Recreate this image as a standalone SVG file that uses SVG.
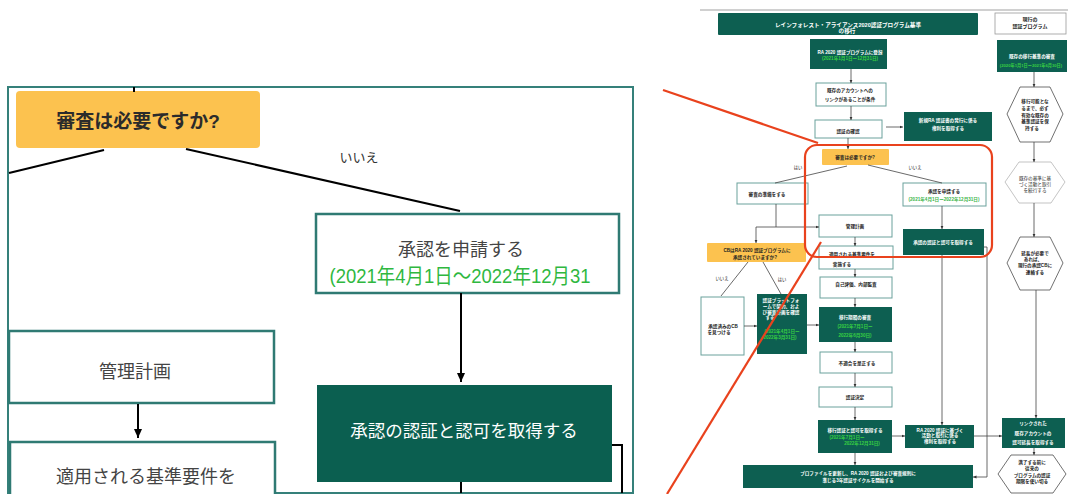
<svg xmlns="http://www.w3.org/2000/svg" width="1068" height="494" viewBox="0 0 1068 494">
<defs>
<style>
text{font-family:"Liberation Sans","Noto Sans CJK JP",sans-serif;text-anchor:middle;dominant-baseline:central}
.frame{fill:none;stroke:#35807a;stroke-width:2}
.wb{fill:#fff;stroke:#2f7a73;stroke-width:2.5}
.gb{fill:#0b5f50}
.yb{fill:#fcc24f}
.sw{fill:#fff;stroke:#6aa19c;stroke-width:1}
.sg{fill:#0d5f51}
.sy{fill:#fcc24f}
.hx{fill:#fff;stroke:#333;stroke-width:0.7}
.hx2{fill:#fff;stroke:#aaa;stroke-width:0.7}
.big{stroke:#000;stroke-width:2;fill:none}
.sm{stroke:#444;stroke-width:0.8;fill:none}
.red{stroke:#e9421d;stroke-width:2.2;fill:none}
.t18{font-size:18px;fill:#444}
.tw{fill:#fff}
.s{font-size:4.6px;font-weight:bold;fill:#222}
.sW{font-size:4.6px;font-weight:bold;fill:#fff}
.sG{font-size:4.6px;font-weight:bold;fill:#38d042}
.sGw{font-size:4.6px;font-weight:bold;fill:#3cb54a}
</style>
<marker id="ab" markerWidth="10" markerHeight="10" refX="9" refY="5" orient="auto" markerUnits="userSpaceOnUse"><path d="M0,1 L9,5 L0,9 Z" fill="#000"/></marker>
<marker id="as" markerWidth="4" markerHeight="4" refX="3.5" refY="2" orient="auto" markerUnits="userSpaceOnUse"><path d="M0,0.4 L3.5,2 L0,3.6 Z" fill="#333"/></marker>
</defs>
<rect width="1068" height="494" fill="#fff"/>

<!-- Left zoomed panel -->
<g id="panel">
<rect class="frame" x="8" y="87" width="625" height="406"/>
</g>
<g id="L-review">
<rect class="yb" x="16" y="91" width="244" height="57" rx="4"/>
<text x="138" y="121" style="font-size:19px;font-weight:bold;fill:#2b2b2b">審査は必要ですか?</text>
</g>
<g id="L-apply">
<rect class="wb" x="316" y="214" width="303" height="79"/>
<text class="t18" x="461" y="250">承認を申請する</text>
<text x="460" y="275" textLength="261" lengthAdjust="spacingAndGlyphs" style="font-size:21px;fill:#2fb83f">(2021年4月1日～2022年12月31</text>
</g>
<g id="L-obtain">
<rect class="gb" x="317" y="385" width="295" height="97"/>
<text class="tw" x="464" y="431" style="font-size:17.5px">承認の認証と認可を取得する</text>
</g>
<g id="L-plan">
<rect class="wb" x="9" y="331" width="265" height="72"/>
<text class="t18" x="135" y="372">管理計画</text>
</g>
<g id="L-apply2">
<rect class="wb" x="10" y="442" width="265" height="60"/>
<text class="t18" x="146" y="477">適用される基準要件を</text>
</g>
<g id="L-labels">
<text x="359" y="157" style="font-size:13px;fill:#333">いいえ</text>
</g>
<g id="L-connectors">
<path class="big" d="M134 87 V92"/>
<path class="big" d="M104 150 L9 173"/>
<path class="big" d="M186 149 L460 211"/>
<path class="big" d="M461 293 V382" marker-end="url(#ab)"/>
<path class="big" d="M138 404 V438" marker-end="url(#ab)"/>
<path class="big" d="M612 445 H622 V493"/>
<path class="big" d="M461 482 V493"/>
</g>

<!-- Right mini flowchart -->
<g id="R-topline"><path d="M700 10 H1068" stroke="#d0d0d0" stroke-width="2"/></g>
<g id="R-title">
<rect class="sg" x="718" y="13" width="260" height="22" rx="1"/>
<text class="sW" x="848" y="24.5" style="font-size:5.6px">レインフォレスト・アライアンス2020認証プログラム基準</text>
<text class="sW" x="847" y="30.5" style="font-size:5.6px">の移行</text>
</g>
<g id="R-title2">
<rect x="995" y="13" width="71" height="21" fill="#fff" stroke="#999" stroke-width="0.8"/>
<text class="s" x="1030" y="18.5" style="font-size:5px">現行の</text>
<text class="s" x="1030" y="26" style="font-size:5px">認証プログラム</text>
</g>
<g id="R-ra2020">
<rect class="sg" x="810" y="39" width="77" height="30"/>
<text class="sW" x="850" y="52">RA 2020 認証プログラムに登録</text>
<text class="sG" x="850" y="58.5">(2021年1月1日ー12月31日)</text>
</g>
<g id="R-link">
<rect class="sw" x="816" y="83" width="70" height="23"/>
<text class="s" x="850" y="90">既存のアカウントへの</text>
<text class="s" x="850" y="99">リンクがあることが条件</text>
</g>
<g id="R-check">
<rect class="sw" x="815" y="120" width="67" height="18"/>
<text class="s" x="848" y="131">認証の確認</text>
</g>
<g id="R-new">
<rect class="sg" x="904" y="112" width="88" height="29"/>
<text class="sW" x="948" y="120">新規RA 認証書の発行に係る</text>
<text class="sW" x="948" y="128">権利を取得する</text>
</g>
<g id="R-review">
<rect class="sy" x="822" y="149" width="67" height="16" rx="1"/>
<text class="s" x="855" y="157">審査は必要ですか?</text>
</g>
<g id="R-prep">
<rect class="sw" x="737" y="183" width="71" height="21"/>
<text class="s" x="767" y="194">審査の準備をする</text>
</g>
<g id="R-apply">
<rect class="sw" x="903" y="183" width="83" height="23"/>
<text class="s" x="944" y="191.5">承認を申請する</text>
<text class="sGw" x="944" y="199.5">(2021年4月1日ー2022年12月31日)</text>
</g>
<g id="R-obtain">
<rect class="sg" x="903" y="229" width="81" height="26"/>
<text class="sW" x="943" y="242">承認の認証と認可を取得する</text>
</g>
<g id="R-plan">
<rect class="sw" x="819" y="215" width="73" height="22"/>
<text class="s" x="855" y="226">管理計画</text>
</g>
<g id="R-impl">
<rect class="sw" x="819" y="246" width="74" height="23"/>
<text class="s" x="852" y="254">適用される基準要件を</text>
<text class="s" x="842" y="264">実施する</text>
</g>
<g id="R-self">
<rect class="sw" x="820" y="277" width="72" height="21"/>
<text class="s" x="856" y="284">自己評価、内部監査</text>
</g>
<g id="R-trans">
<rect class="sg" x="819" y="307" width="73" height="35"/>
<text class="sW" x="855" y="317.5">移行期間の審査</text>
<text class="sG" x="855" y="326.5">(2021年7月1日ー</text>
<text class="sG" x="855" y="335">2022年6月30日)</text>
</g>
<g id="R-fix">
<rect class="sw" x="820" y="352" width="72" height="21"/>
<text class="s" x="857" y="363">不適合を是正する</text>
</g>
<g id="R-decide">
<rect class="sw" x="819" y="387" width="73" height="20"/>
<text class="s" x="855" y="397">認証決定</text>
</g>
<g id="R-transcert">
<rect class="sg" x="818" y="420" width="74" height="33"/>
<text class="sW" x="855" y="430.5">移行認証と認可を取得する</text>
<text class="sG" x="847" y="437">(2021年7月1日ー</text>
<text class="sG" x="862" y="443.5">2022年12月31日)</text>
</g>
<g id="R-profile">
<rect class="sg" x="743" y="465" width="230" height="23"/>
<text class="sW" x="858" y="473">プロファイルを更新し、RA 2020 認証および審査規則に</text>
<text class="sW" x="858" y="480.5">準じる3年認証サイクルを開始する</text>
</g>
<g id="R-rights">
<rect class="sg" x="905" y="425" width="69" height="23"/>
<text class="sW" x="940" y="430">RA 2020 認証に基づく</text>
<text class="sW" x="940" y="435.5">活動と取引に係る</text>
<text class="sW" x="940" y="441">権利を取得する</text>
</g>
<g id="R-linked">
<rect class="sg" x="1002" y="418" width="63" height="30"/>
<text class="sW" x="1033" y="423.5">リンクされた</text>
<text class="sW" x="1033" y="433">既存アカウントの</text>
<text class="sW" x="1033" y="442">認可延長を取得する</text>
</g>
<g id="R-hex4">
<polygon class="hx" points="998,474 1011,455 1053,455 1066,474 1053,493 1011,493"/>
<text class="s" x="1032" y="462">満了する前に</text>
<text class="s" x="1032" y="468">従来の</text>
<text class="s" x="1032" y="475">プログラムの認証</text>
<text class="s" x="1032" y="481.5">期限を使い切る</text>
</g>
<g id="R-current">
<rect class="sg" x="997" y="40" width="70" height="32"/>
<text class="sW" x="1032" y="56.5">既存の移行基準の審査</text>
<text class="sG" x="1031" y="65.5" style="font-size:4.2px">(2020年1月1日ー2021年6月30日)</text>
</g>
<g id="R-hex1">
<polygon class="hx" points="1007,114 1020,87 1050,87 1063,114 1050,142 1020,142"/>
<text class="s" x="1035" y="101.5">移行可能とな</text>
<text class="s" x="1035" y="108">るまで、必ず</text>
<text class="s" x="1035" y="115">有効な既存の</text>
<text class="s" x="1035" y="121.5">基準認証を保</text>
<text class="s" x="1032" y="128">持する</text>
</g>
<g id="R-hex2">
<polygon class="hx2" points="1005,182 1019,162 1051,162 1065,182 1051,203 1019,203"/>
<text class="s" x="1035" y="178" style="font-weight:normal">既存の基準に基</text>
<text class="s" x="1035" y="184" style="font-weight:normal">づく活動と取引</text>
<text class="s" x="1035" y="190" style="font-weight:normal">を続行する</text>
</g>
<g id="R-hex3">
<polygon class="hx" points="1007,263 1020,237 1050,237 1063,263 1050,290 1020,290"/>
<text class="s" x="1035" y="253">延長が必要で</text>
<text class="s" x="1033" y="259">あれば、</text>
<text class="s" x="1035" y="265.5">現行の承認CBに</text>
<text class="s" x="1035" y="272.5">連絡する</text>
</g>
<g id="R-cb">
<rect class="sy" x="707" y="243" width="99" height="19" rx="1"/>
<text class="s" x="757" y="250">CBはRA 2020 認証プログラムに</text>
<text class="s" x="755" y="257">承認されていますか?</text>
</g>
<g id="R-findcb">
<rect class="sw" x="701" y="297" width="43" height="58"/>
<text class="s" x="723" y="326">承認済みのCB</text>
<text class="s" x="719" y="332">を見つける</text>
</g>
<g id="R-platform">
<rect class="sg" x="757" y="294" width="50" height="60"/>
<text class="sW" x="781" y="300">認証プラットフォ</text>
<text class="sW" x="781" y="306">ームで契約、およ</text>
<text class="sW" x="781" y="312">び審査計画を確認</text>
<text class="sW" x="770" y="317.5">する</text>
<text class="sG" x="782" y="331">(2021年4月1日ー</text>
<text class="sG" x="780" y="337">2022年3月31日)</text>
</g>
<g id="R-labels">
<text class="s" x="798" y="167" style="font-weight:normal;font-size:4.3px">はい</text>
<text class="s" x="915" y="167" style="font-weight:normal;font-size:4.3px">いいえ</text>
<text class="s" x="722" y="278" style="font-weight:normal;font-size:4.3px">いいえ</text>
<text class="s" x="782" y="279" style="font-weight:normal;font-size:4.3px">はい</text>
</g>
<g id="R-connectors">
<path class="sm" d="M851 69 V83" marker-end="url(#as)"/>
<path class="sm" d="M851 106 V120" marker-end="url(#as)"/>
<path class="sm" d="M886 127 H903" marker-end="url(#as)"/>
<path class="sm" d="M848 138 V149" marker-end="url(#as)"/>
<path class="sm" d="M847 166 L775 183"/>
<path class="sm" d="M868 165 L942 183"/>
<path class="sm" d="M942 206 V229" marker-end="url(#as)"/>
<path class="sm" d="M776 204 V227"/>
<path class="sm" d="M756 227 H819" marker-end="url(#as)"/>
<path class="sm" d="M756 227 V243" marker-end="url(#as)"/>
<path class="sm" d="M855 237 V246" marker-end="url(#as)"/>
<path class="sm" d="M855 269 V277" marker-end="url(#as)"/>
<path class="sm" d="M855 298 V307" marker-end="url(#as)"/>
<path class="sm" d="M855 342 V352" marker-end="url(#as)"/>
<path class="sm" d="M855 373 V387" marker-end="url(#as)"/>
<path class="sm" d="M855 407 V420" marker-end="url(#as)"/>
<path class="sm" d="M855 453 V465" marker-end="url(#as)"/>
<path class="sm" d="M748 262 L721 296"/>
<path class="sm" d="M763 262 L781 294"/>
<path class="sm" d="M744 326 H757" marker-end="url(#as)"/>
<path class="sm" d="M807 325 H819" marker-end="url(#as)"/>
<path class="sm" d="M892 436 H905" marker-end="url(#as)"/>
<path class="sm" d="M942 255 V425" marker-end="url(#as)"/>
<path class="sm" d="M984 247 H987 V477 H973" marker-end="url(#as)"/>
<path class="sm" d="M974 436 H1002" marker-end="url(#as)"/>
<path class="sm" d="M1034 448 V455" marker-end="url(#as)"/>
<path class="sm" d="M1034 72 V87" marker-end="url(#as)"/>
<path class="sm" d="M1034 142 V162" marker-end="url(#as)"/>
<path class="sm" d="M1034 203 V237" marker-end="url(#as)"/>
<path class="sm" d="M1036 290 V418" marker-end="url(#as)"/>
</g>

<!-- Red highlight -->
<g id="highlight">
<rect class="red" x="805" y="145" width="187" height="112" rx="12"/>
<path class="red" d="M663 90 L818 143"/>
<path class="red" d="M821 242 L667 494"/>
</g>
</svg>
